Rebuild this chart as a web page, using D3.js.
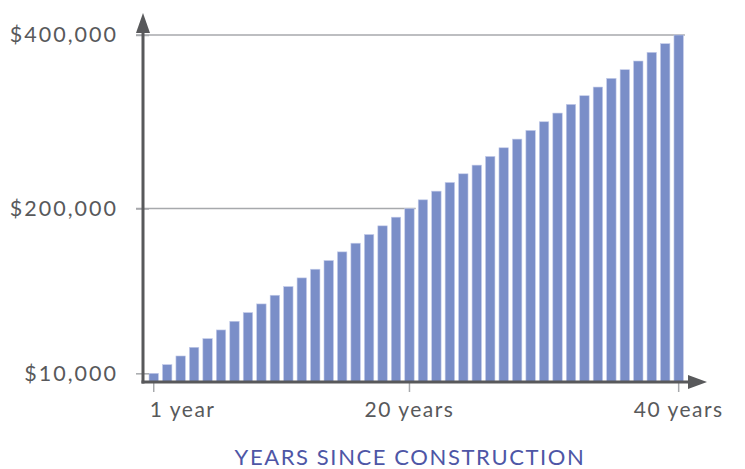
<!DOCTYPE html>
<html>
<head>
<meta charset="utf-8">
<script src="https://cdn.jsdelivr.net/npm/d3@7"></script>
<style>
  body { margin: 0; background: #fff; }
  svg text { font-family: Lato, "Open Sans", sans-serif; }
</style>
</head>
<body>
<div id="chart"></div>
<script>
// --- Data ---
const years = d3.range(1, 41);
const values = [
  10000, 20000, 30000, 40000, 50000, 60000, 70000, 80000, 90000, 100000,
  110000, 120000, 130000, 140000, 150000, 160000, 170000, 180000, 190000, 200000,
  210000, 220000, 230000, 240000, 250000, 260000, 270000, 280000, 290000, 300000,
  310000, 320000, 330000, 340000, 350000, 360000, 370000, 380000, 390000, 400000
];
const yTicks = [10000, 200000, 400000];
const xTicks = [1, 20, 40];
const xTickLabels = ['1 year', '20 years', '40 years'];
const xTitle = 'YEARS SINCE CONSTRUCTION';

const df = years.map((y, i) => ({ year: y, value: values[i] }));

// --- Sizing ---
const width = 745, height = 469;
const axisX = 143, axisY = 382;
const axisColor = '#58595b';
const gridColor = '#a7a9ac';
const barColor = '#7a8ec8';

const svg = d3.select('#chart').append('svg')
  .attr('width', width)
  .attr('height', height);

// --- Scales ---
const x = d3.scaleBand()
  .domain(years)
  .range([147, 685.4])
  .paddingInner(0.3)
  .paddingOuter(0.15);

const y = d3.scaleLinear()
  .domain([0, 400000])
  .range([axisY, 35]);

// gridlines: run from the tick to the bar carrying that value
svg.append('g').selectAll('line.grid')
  .data(yTicks.filter(t => t !== 10000))
  .enter().append('line')
  .attr('x1', 136)
  .attr('x2', d => {
    const b = df.find(r => r.value === d);
    return x(b.year) + x.bandwidth() + 1.5;
  })
  .attr('y1', d => y(d))
  .attr('y2', d => y(d))
  .attr('stroke', gridColor)
  .attr('stroke-width', 1.5);

// bars
svg.append('g').selectAll('rect')
  .data(df)
  .enter().append('rect')
  .attr('x', d => x(d.year))
  .attr('width', x.bandwidth())
  .attr('y', d => y(d.value))
  .attr('height', d => axisY - y(d.value))
  .attr('fill', barColor)
  .attr('stroke', '#c3cbe9')
  .attr('stroke-width', 0.6);

// y axis (labels + short ticks)
const yAxis = d3.axisLeft(y)
  .tickValues(yTicks)
  .tickSize(7)
  .tickPadding(18)
  .tickFormat(d => '$' + d3.format(',')(d));

const gy = svg.append('g')
  .attr('transform', `translate(${axisX},0)`)
  .call(yAxis);
gy.select('.domain').remove();
gy.selectAll('.tick line').attr('stroke', gridColor).attr('stroke-width', 1.5).attr('x2', -7).attr('x1', 6);
gy.selectAll('.tick text')
  .attr('fill', axisColor)
  .style('font-size', '21.5px')
  .style('letter-spacing', '2px');

// x axis ticks + labels
const xAxis = d3.axisBottom(x)
  .tickValues(xTicks)
  .tickSize(10)
  .tickFormat((d, i) => xTickLabels[i]);

const gx = svg.append('g')
  .attr('transform', `translate(0,${axisY})`)
  .call(xAxis);
gx.select('.domain').remove();
gx.selectAll('.tick line').attr('stroke', gridColor).attr('stroke-width', 1.5);
gx.selectAll('.tick text')
  .attr('fill', axisColor)
  .attr('y', 35)
  .attr('dy', 0)
  .style('font-size', '21px')
  .style('letter-spacing', '1.5px');
// first label starts at its tick rather than centring on it
gx.selectAll('.tick text')
  .filter((d, i) => i === 0)
  .attr('text-anchor', 'start')
  .attr('x', -4);

// axis lines with arrow heads
svg.append('line')
  .attr('x1', axisX).attr('x2', axisX)
  .attr('y1', axisY + 1.5).attr('y2', 28)
  .attr('stroke', axisColor).attr('stroke-width', 3);
svg.append('path')
  .attr('d', `M${axisX},13 L${axisX + 7},33 L${axisX - 7},33 Z`)
  .attr('fill', axisColor);

svg.append('line')
  .attr('x1', axisX - 1.5).attr('x2', 692)
  .attr('y1', axisY).attr('y2', axisY)
  .attr('stroke', axisColor).attr('stroke-width', 3);
svg.append('path')
  .attr('d', `M707,${axisY} L688,${axisY - 7} L688,${axisY + 7} Z`)
  .attr('fill', axisColor);

// x title
svg.append('text')
  .attr('x', 410)
  .attr('y', 465)
  .attr('text-anchor', 'middle')
  .attr('fill', '#4e56a6')
  .style('font-size', '22px')
  .style('letter-spacing', '1.6px')
  .text(xTitle);
</script>
</body>
</html>
